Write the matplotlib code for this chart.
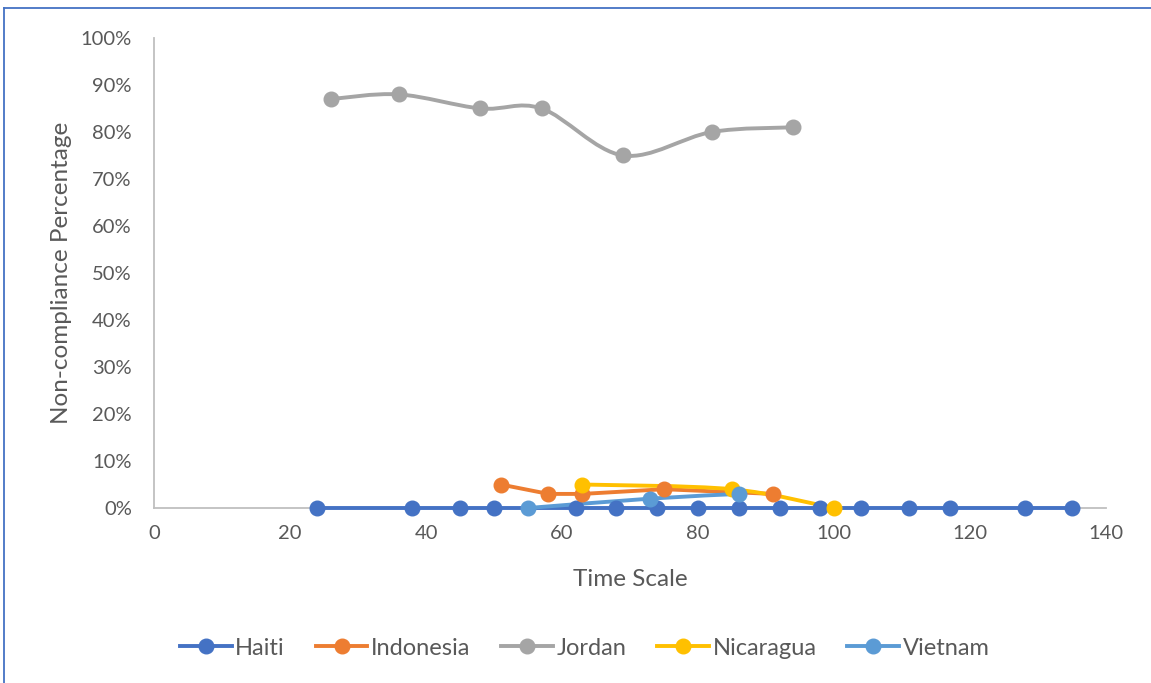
import numpy as np
import matplotlib
matplotlib.use("Agg")
import matplotlib.pyplot as plt
from matplotlib.path import Path
from matplotlib.patches import PathPatch
from matplotlib.lines import Line2D

# data
haiti_x = [24, 38, 45, 50, 62, 68, 74, 80, 86, 92, 98, 104, 111, 117, 128, 135]
haiti_y = [0] * 16
indonesia_x = [51, 58, 63, 75, 91]
indonesia_y = [5, 3, 3, 4, 3]
jordan_x = [26, 36, 48, 57, 69, 82, 94]
jordan_y = [87, 88, 85, 85, 75, 80, 81]
nicaragua_x = [63, 85, 100]
nicaragua_y = [5, 4, 0]
vietnam_x = [55, 73, 86]
vietnam_y = [0, 2, 3]

series = [
    ("Haiti", haiti_x, haiti_y, "#4472C4", False),
    ("Indonesia", indonesia_x, indonesia_y, "#ED7D31", False),
    ("Jordan", jordan_x, jordan_y, "#A5A5A5", True),
    ("Nicaragua", nicaragua_x, nicaragua_y, "#FFC000", True),
    ("Vietnam", vietnam_x, vietnam_y, "#5B9BD5", True),
]

plt.rcParams['font.family'] = ['Lato', 'DejaVu Sans']
txt = "#595959"


def smooth_path(xs, ys):
    # Excel-style smoothed line: cubic bezier segments (Catmull-Rom tangents)
    pts = np.column_stack([xs, ys]).astype(float)
    verts = [pts[0]]
    codes = [Path.MOVETO]
    n = len(pts)
    for i in range(n - 1):
        p0 = pts[max(i - 1, 0)]
        p1 = pts[i]
        p2 = pts[i + 1]
        p3 = pts[min(i + 2, n - 1)]
        c1 = p1 + (p2 - p0) / 6.0
        c2 = p2 - (p3 - p1) / 6.0
        verts += [c1, c2, p2]
        codes += [Path.CURVE4] * 3
    return Path(verts, codes)


fig = plt.figure(figsize=(11.51, 6.83), dpi=100)
ax = fig.add_axes([0.1338, 0.2562, 0.8272, 0.6882])

lw = 2.8
ms = 10.5
handles = []
for name, xs, ys, col, smooth in series:
    if smooth:
        ax.add_patch(PathPatch(smooth_path(xs, ys), facecolor="none",
                               edgecolor=col, lw=lw, zorder=2, clip_on=False))
    else:
        ax.plot(xs, ys, color=col, lw=lw, zorder=2, clip_on=False)
    ax.plot(xs, ys, linestyle="none", marker="o", markersize=ms,
            color=col, zorder=3, clip_on=False)
    handles.append(Line2D([], [], color=col, lw=lw, marker="o",
                          markersize=ms, label=name))

ax.set_xlim(0, 140)
ax.set_ylim(0, 100)
ax.set_xticks(np.arange(0, 141, 20))
ax.set_yticks(np.arange(0, 101, 10))
ax.set_yticklabels([f"{v}%" for v in range(0, 101, 10)])
ax.tick_params(length=0, labelsize=14.5, colors=txt)
ax.tick_params(axis="x", pad=12)
ax.tick_params(axis="y", pad=16)

for s in ["top", "right"]:
    ax.spines[s].set_visible(False)
ax.spines["left"].set_color("#BFBFBF")
ax.spines["bottom"].set_color("#BFBFBF")
ax.spines["left"].set_linewidth(1.3)
ax.spines["bottom"].set_linewidth(1.3)
ax.spines["bottom"].set_zorder(1)

ax.set_xlabel("Time Scale", fontsize=17.5, color=txt, labelpad=20)
ax.set_ylabel("Non-compliance Percentage", fontsize=17.5, color=txt, labelpad=6)

fig.legend(handles=handles, loc="center", bbox_to_anchor=(0.508, 0.051),
           ncol=5, frameon=False, fontsize=17, labelcolor=txt,
           handlelength=2.2, handletextpad=0.15, columnspacing=1.3)

# blue chart border on left and top edges
fig.add_artist(Line2D([0.0035, 0.0035], [0, 0.988], color="#4472C4",
                      lw=1.3, transform=fig.transFigure))
fig.add_artist(Line2D([0.0035, 1.0], [0.988, 0.988], color="#4472C4",
                      lw=1.3, transform=fig.transFigure))

fig.savefig("out.png", dpi=100)
